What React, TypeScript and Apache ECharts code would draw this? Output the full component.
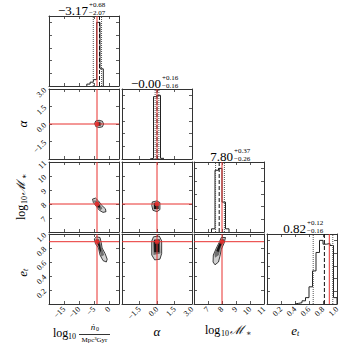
import { useEffect, useRef } from "react";
import * as echarts from "echarts";

// ---- axis definitions (n0, alpha, logM, e_t) ----
const axisMin = [-20, -3, 6, 0];
const axisMax = [3.33, 3, 11, 1];
const axisInterval = [5, 1.5, 1, 0.2];
const axisDecimals = [0, 1, 0, 1];
const showMaxTick = [false, true, true, true];

// ---- truths and summary statistics ----
const truths = [-4.0, 0.0, 8.0, 0.89];
const titleMain = ["\u22123.17", "\u22120.00", "7.80", "0.82"];
const medians = [-3.17, -0.0, 7.8, 0.82];
const errPlus = [0.68, 0.16, 0.37, 0.12];
const errMinus = [2.07, 0.16, 0.26, 0.16];

// ---- 1D histograms (bin edges and relative counts) ----
const n0Edges = [-7.4, -6.3, -5.2, -4.1, -3.0, -1.9];
const n0Counts = [3, 6, 10, 100, 27];
const alphaEdges = [-0.6, -0.3, 0.0, 0.3, 0.6];
const alphaCounts = [1, 98, 100, 1];
const logMEdges = [7.25, 7.5, 7.75, 8.0, 8.25, 8.5];
const logMCounts = [5, 97, 100, 47, 5];
const etEdges = [0.4, 0.45, 0.5, 0.55, 0.6, 0.65, 0.7, 0.75, 0.8, 0.85, 0.9, 0.95, 1.0];
const etCounts = [1, 2, 5, 10, 27, 52, 81, 100, 94, 95, 92, 10];

// ---- 2D density contours (outer, mid, inner) ----
const n0AlphaOuter = [[-4.8, 0.05], [-4.4, 0.26], [-3.3, 0.32], [-2.2, 0.24], [-1.8, 0.0], [-2.2, -0.24], [-3.3, -0.3], [-4.4, -0.22]];
const n0AlphaMid = [[-4.3, 0.05], [-3.8, 0.22], [-3.0, 0.22], [-2.4, 0.05], [-2.7, -0.18], [-3.5, -0.2], [-4.1, -0.12]];
const n0AlphaInner = [[-4.0, 0.06], [-3.5, 0.16], [-2.9, 0.1], [-2.9, -0.1], [-3.6, -0.14]];

const n0LogMOuter = [[-5.5, 8.35], [-4.5, 8.42], [-3.5, 8.22], [-2.5, 7.92], [-1.2, 7.66], [-1.0, 7.45], [-2.0, 7.4], [-3.2, 7.55], [-4.3, 7.85], [-5.2, 8.1]];
const n0LogMMid = [[-5.0, 8.25], [-4.0, 8.25], [-3.0, 7.95], [-2.2, 7.7], [-2.8, 7.55], [-4.0, 7.8], [-4.8, 8.05]];
const n0LogMInner = [[-4.3, 8.15], [-3.6, 8.1], [-3.0, 7.85], [-3.2, 7.7], [-4.0, 7.85]];

const n0EtOuter = [[-4.9, 0.93], [-4.2, 0.96], [-3.0, 0.95], [-2.6, 0.88], [-2.3, 0.8], [-1.3, 0.72], [-0.6, 0.64], [-0.9, 0.6], [-2.0, 0.62], [-3.0, 0.7], [-3.5, 0.8], [-4.5, 0.86]];
const n0EtMid = [[-4.5, 0.92], [-3.3, 0.93], [-2.8, 0.86], [-2.2, 0.78], [-1.6, 0.7], [-2.5, 0.68], [-3.2, 0.76], [-3.7, 0.84], [-4.4, 0.88]];
const n0EtInner = [[-4.2, 0.92], [-3.4, 0.91], [-3.0, 0.84], [-2.6, 0.76], [-3.0, 0.74], [-3.4, 0.82], [-4.0, 0.87]];

const alphaLogMOuter = [[-0.4, 8.15], [0.0, 8.22], [0.25, 8.1], [0.25, 7.6], [0.0, 7.45], [-0.35, 7.55], [-0.45, 7.9]];
const alphaLogMMid = [[-0.3, 8.1], [0.15, 8.12], [0.2, 7.65], [-0.3, 7.6]];
const alphaLogMInner = [[-0.25, 8.05], [0.1, 8.05], [0.12, 7.65], [-0.25, 7.65]];

const alphaEtOuter = [[-0.45, 0.9], [-0.3, 0.96], [0.2, 0.97], [0.4, 0.9], [0.4, 0.72], [0.25, 0.64], [-0.2, 0.63], [-0.45, 0.7]];
const alphaEtMid = [[-0.35, 0.9], [0.25, 0.93], [0.3, 0.72], [-0.3, 0.7]];
const alphaEtInner = [[-0.25, 0.92], [0.2, 0.92], [0.2, 0.74], [-0.25, 0.74]];

const logMEtOuter = [[7.95, 0.95], [8.25, 0.95], [8.15, 0.87], [7.95, 0.78], [7.85, 0.68], [7.75, 0.6], [7.5, 0.56], [7.36, 0.6], [7.38, 0.7], [7.6, 0.8], [7.8, 0.88]];
const logMEtMid = [[8.0, 0.94], [8.2, 0.92], [7.95, 0.82], [7.78, 0.7], [7.5, 0.66], [7.45, 0.72], [7.65, 0.8], [7.85, 0.88]];
const logMEtInner = [[8.0, 0.92], [8.15, 0.91], [7.9, 0.82], [7.75, 0.74], [7.6, 0.76], [7.75, 0.84], [7.9, 0.9]];

const histEdges = [n0Edges, alphaEdges, logMEdges, etEdges];
const histCounts = [n0Counts, alphaCounts, logMCounts, etCounts];
const contours: Record<string, number[][][]> = {
  "1-0": [n0AlphaOuter, n0AlphaMid, n0AlphaInner],
  "2-0": [n0LogMOuter, n0LogMMid, n0LogMInner],
  "3-0": [n0EtOuter, n0EtMid, n0EtInner],
  "2-1": [alphaLogMOuter, alphaLogMMid, alphaLogMInner],
  "3-1": [alphaEtOuter, alphaEtMid, alphaEtInner],
  "3-2": [logMEtOuter, logMEtMid, logMEtInner],
};

const COL_LEFT = [49, 122, 194, 267];
const ROW_TOP = [16, 89, 162, 234];
const SIZE = 70;
const SERIF = "'Liberation Serif', 'DejaVu Serif', serif";
const LEVEL_FILL = ["#cfcfcf", "#707070", "#151515"];
const FRAME = "#333";
const RED = "#e8312f";

function fmt(i: number) {
  return (v: number) => {
    const s = Math.abs(v).toFixed(axisDecimals[i]);
    return (v < -1e-9 ? "\u2212" : "") + s;
  };
}

function segment(xi: number, yi: number, data: number[][], color: string, type: string, z = 4) {
  return {
    type: "line", xAxisIndex: xi, yAxisIndex: yi, data, showSymbol: false, symbol: "none", silent: true, z,
    lineStyle: { color, width: 1, type },
  };
}

function buildOption() {
  const grids: any[] = [];
  const xAxes: any[] = [];
  const yAxes: any[] = [];
  const series: any[] = [];
  const labelStyle = { color: "#000", fontSize: 8, fontFamily: SERIF };
  const tick = { show: true, inside: true, length: 3, lineStyle: { color: FRAME, width: 0.8 } };
  const line = { show: true, onZero: false, lineStyle: { color: FRAME, width: 1 } };
  let g = 0;
  for (let r = 0; r < 4; r++) {
    for (let c = 0; c <= r; c++) {
      grids.push({ left: COL_LEFT[c], top: ROW_TOP[r], width: SIZE, height: SIZE });
      const xBase: any = {
        type: "value", gridIndex: g, min: axisMin[c], max: axisMax[c], interval: axisInterval[c],
        splitLine: { show: false }, axisLine: line, axisTick: tick,
      };
      xAxes.push({
        ...xBase, position: "bottom",
        axisLabel: r === 3
          ? { ...labelStyle, show: true, rotate: 45, margin: 4, formatter: fmt(c), showMinLabel: false, showMaxLabel: showMaxTick[c] }
          : { show: false },
      });
      xAxes.push({ ...xBase, position: "top", axisLabel: { show: false } });
      let yBase: any;
      let yMax = 0;
      if (r === c) {
        yMax = Math.max(...histCounts[c]) * 1.1;
        yBase = { type: "value", gridIndex: g, min: 0, max: yMax, interval: 20, splitLine: { show: false }, axisLine: line, axisTick: tick };
        yAxes.push({ ...yBase, position: "left", axisLabel: { show: false } });
      } else {
        yBase = {
          type: "value", gridIndex: g, min: axisMin[r], max: axisMax[r], interval: axisInterval[r],
          splitLine: { show: false }, axisLine: line, axisTick: tick,
        };
        yAxes.push({
          ...yBase, position: "left",
          axisLabel: c === 0
            ? { ...labelStyle, show: true, rotate: 45, margin: 4, formatter: fmt(r), showMinLabel: false, showMaxLabel: showMaxTick[r] }
            : { show: false },
        });
      }
      yAxes.push({ ...yBase, position: "right", axisLabel: { show: false } });
      const xi = 2 * g;
      const yi = 2 * g;

      if (r === c) {
        const edges = histEdges[c];
        const counts = histCounts[c];
        const pts: number[][] = [[edges[0], 0]];
        counts.forEach((cnt, k) => {
          pts.push([edges[k], cnt]);
          pts.push([edges[k + 1], cnt]);
        });
        pts.push([edges[edges.length - 1], 0]);
        const q16 = medians[c] - errMinus[c];
        const q84 = medians[c] + errPlus[c];
        series.push(segment(xi, yi, pts, "#222", "solid", 3));
        series.push(segment(xi, yi, [[q16, 0], [q16, yMax]], "#555", "dotted"));
        series.push(segment(xi, yi, [[q84, 0], [q84, yMax]], "#555", "dotted"));
        series.push(segment(xi, yi, [[medians[c], 0], [medians[c], yMax]], "#111", "dashed"));
        series.push(segment(xi, yi, [[truths[c], 0], [truths[c], yMax]], RED, "solid", 5));
      } else {
        const polys = contours[`${r}-${c}`];
        series.push({
          type: "custom", xAxisIndex: xi, yAxisIndex: yi, clip: true, silent: true, z: 2,
          data: polys.map((p, k) => [p[0][0], p[0][1], k]),
          renderItem: (params: any, api: any) => {
            const k = params.dataIndex;
            return {
              type: "polygon",
              shape: { points: polys[k].map((pt) => api.coord(pt)) },
              style: { fill: LEVEL_FILL[k], stroke: k === 0 ? "#111" : "none", lineWidth: 0.8 },
            };
          },
        });
        series.push(segment(xi, yi, [[truths[c], axisMin[r]], [truths[c], axisMax[r]]], RED, "solid", 4));
        series.push(segment(xi, yi, [[axisMin[c], truths[r]], [axisMax[c], truths[r]]], RED, "solid", 4));
        series.push({
          type: "scatter", xAxisIndex: xi, yAxisIndex: yi, silent: true, z: 5,
          data: [[truths[c], truths[r]]], symbol: "rect", symbolSize: 4,
          itemStyle: { color: RED },
        });
      }
      g++;
    }
  }

  const graphics: any[] = [];
  const txt = (x: number, y: number, text: string, size: number, align = "left", italic = false) => ({
    type: "text", x, y, silent: true,
    style: { text, fontSize: size, fontFamily: SERIF, fill: "#000", align, verticalAlign: "middle", fontStyle: italic ? "italic" : "normal" },
  });
  // titles
  for (let i = 0; i < 4; i++) {
    const cx = COL_LEFT[i] + SIZE / 2;
    const ty = ROW_TOP[i];
    graphics.push(txt(cx + 4, ty - 6, titleMain[i], 13, "right"));
    graphics.push(txt(cx + 5, ty - 11, "+" + errPlus[i].toFixed(2), 7));
    graphics.push(txt(cx + 5, ty - 3, "\u2212" + errMinus[i].toFixed(2), 7));
  }
  // bottom axis labels
  graphics.push(txt(53, 333, "log", 12));
  graphics.push(txt(68, 336, "10", 8));
  graphics.push(txt(93, 327, "\u1E45", 9, "center", true));
  graphics.push(txt(96, 329, "0", 6));
  graphics.push({ type: "line", silent: true, shape: { x1: 79, y1: 334.5, x2: 110, y2: 334.5 }, style: { stroke: "#000", lineWidth: 0.8 } });
  graphics.push(txt(94.5, 340, "Mpc\u00B3Gyr", 7, "center"));
  graphics.push(txt(157, 331, "\u03B1", 13, "center", true));
  const logMLabel = (x: number, y: number, rotation = 0) => ({
    type: "group", x, y, rotation, silent: true,
    children: [
      txt(-23, 0, "log", 12),
      txt(-7, 3, "10", 8),
      txt(2, 0, "\u2133", 12, "left", true),
      txt(18, 3, "\u2217", 8),
    ],
  });
  graphics.push(logMLabel(228, 330));
  graphics.push({
    type: "group", x: 298, y: 330, silent: true,
    children: [txt(-1, 0, "e", 13, "right", true), txt(-1, 3, "t", 8, "left", true)],
  });
  // left axis labels
  graphics.push({ type: "group", x: 22, y: 124, rotation: Math.PI / 2, silent: true, children: [txt(0, 0, "\u03B1", 13, "center", true)] });
  graphics.push(logMLabel(21, 197, Math.PI / 2));
  graphics.push({
    type: "group", x: 22, y: 270, rotation: Math.PI / 2, silent: true,
    children: [txt(-1, 0, "e", 13, "right", true), txt(-1, 3, "t", 8, "left", true)],
  });

  return {
    animation: false,
    backgroundColor: "#fff",
    grid: grids,
    xAxis: xAxes,
    yAxis: yAxes,
    series,
    graphic: graphics,
  };
}

export default function App() {
  const ref = useRef<HTMLDivElement>(null);
  useEffect(() => {
    if (!ref.current) return;
    const chart = echarts.init(ref.current, undefined, { renderer: "svg" });
    chart.setOption(buildOption() as any);
    return () => chart.dispose();
  }, []);
  return <div ref={ref} style={{ position: "fixed", left: 0, top: 0, width: 354, height: 354 }} />;
}
